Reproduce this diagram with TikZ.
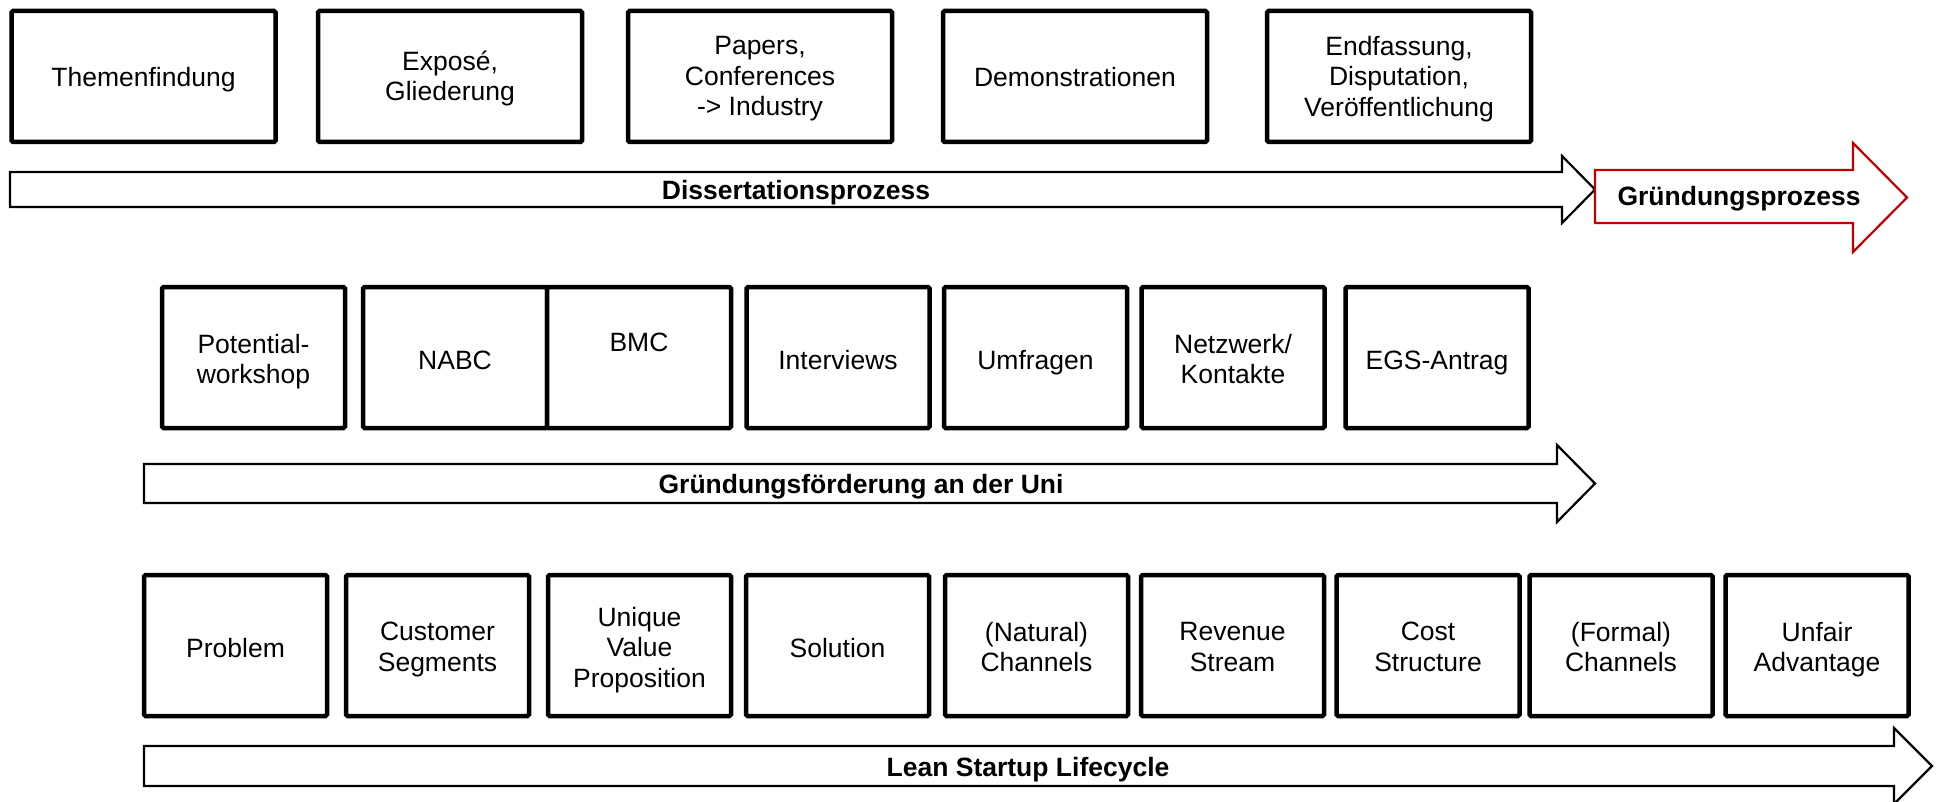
\documentclass[tikz,border=0pt]{standalone}
\usepackage{fontspec}
\setmainfont{Liberation Sans}
\definecolor{procred}{RGB}{192,0,0}
% a framed step: the frame is one node, its caption a second node set a little low
\newcommand\captiondrop{4pt}
\newcommand\stepnode[4]{%
  \node[#1] (#2) at #3 {};
  \node[boxtext] (#2-text) at ([yshift=-\captiondrop]#2.center) {#4};}
\begin{document}
\begin{tikzpicture}[x=1pt,y=-1pt,
  stepbox/.style={draw=black, line width=4.5pt, rounded corners=1.5pt, fill=white,
    inner sep=0pt},
  topbox/.style={stepbox, minimum width=264pt, minimum height=131pt},
  midbox/.style={stepbox, minimum width=183pt, minimum height=141pt},
  lowbox/.style={stepbox, minimum width=183pt, minimum height=141pt},
  boxtext/.style={inner sep=0pt, align=center, text=black,
    font=\fontsize{26.5}{30.5}\selectfont,
    execute at begin node=\strut, execute at end node=\strut},
  flowarrow/.style={draw=black, line width=2.2pt, fill=white, line join=miter},
  flowlabel/.style={inner sep=0pt, font=\bfseries\fontsize{26.5}{30.5}\selectfont}
]
\useasboundingbox (0,0) rectangle (1942,802);

% --- dissertation track -------------------------------------------------
\stepnode{topbox}{thema}{(143.5,76.5)}{Themenfindung}
\stepnode{topbox}{expose}{(450,76.5)}{Exposé,\\Gliederung}
\stepnode{topbox}{papers}{(760,76.5)}{Papers,\\Conferences\\-> Industry}
\stepnode{topbox}{demo}{(1075,76.5)}{Demonstrationen}
\stepnode{topbox}{endf}{(1399,76.5)}{Endfassung,\\Disputation,\\Veröffentlichung}

\draw[flowarrow] (10,172) -- (1562,172) -- (1562,156) -- (1595,189.5)
  -- (1562,223) -- (1562,207) -- (10,207) -- cycle;
\node[flowlabel] (diss) at (796,193) {Dissertationsprozess};

\draw[flowarrow, draw=procred] (1595,170) -- (1853,170) -- (1853,143) -- (1907,197.5)
  -- (1853,252) -- (1853,223) -- (1595,223) -- cycle;
\node[flowlabel] (gruend) at (1739,199) {Gründungsprozess};

% --- university support track ------------------------------------------
\renewcommand\captiondrop{6pt}
\stepnode{midbox}{potw}{(253.5,357.5)}{Potential-\\workshop}
\stepnode{midbox, minimum width=184pt}{nabc}{(455,357.5)}{NABC}
\node[midbox, minimum width=184pt] (bmc) at (639,357.5) {};
\node[boxtext] (bmc-text) at (639,345.5) {BMC};
\stepnode{midbox}{interv}{(838,357.5)}{Interviews}
\stepnode{midbox}{umfr}{(1035.5,357.5)}{Umfragen}
\stepnode{midbox}{netz}{(1233,357.5)}{Netzwerk/\\Kontakte}
\stepnode{midbox}{egs}{(1437,357.5)}{EGS-Antrag}

\draw[flowarrow] (144,464) -- (1557,464) -- (1557,445) -- (1595,483.5)
  -- (1557,522) -- (1557,503) -- (144,503) -- cycle;
\node[flowlabel] (foerd) at (861,486.5) {Gründungsförderung an der Uni};

% --- lean startup track --------------------------------------------------
\renewcommand\captiondrop{6pt}
\stepnode{lowbox}{problem}{(235.5,645.5)}{Problem}
\stepnode{lowbox}{customer}{(437.5,645.5)}{Customer\\Segments}
\stepnode{lowbox}{unique}{(639.5,645.5)}{Unique\\Value\\Proposition}
\stepnode{lowbox}{solution}{(837.5,645.5)}{Solution}
\stepnode{lowbox}{natural}{(1036.5,645.5)}{(Natural)\\Channels}
\stepnode{lowbox}{revenue}{(1232.5,645.5)}{Revenue\\Stream}
\stepnode{lowbox}{cost}{(1428,645.5)}{Cost\\Structure}
\stepnode{lowbox}{formal}{(1621,645.5)}{(Formal)\\Channels}
\stepnode{lowbox}{unfair}{(1817,645.5)}{Unfair\\Advantage}

\draw[flowarrow] (144,746) -- (1894,746) -- (1894,728) -- (1932,766)
  -- (1894,804) -- (1894,786) -- (144,786) -- cycle;
\node[flowlabel] (lean) at (1028,770) {Lean Startup Lifecycle};
\end{tikzpicture}
\end{document}
